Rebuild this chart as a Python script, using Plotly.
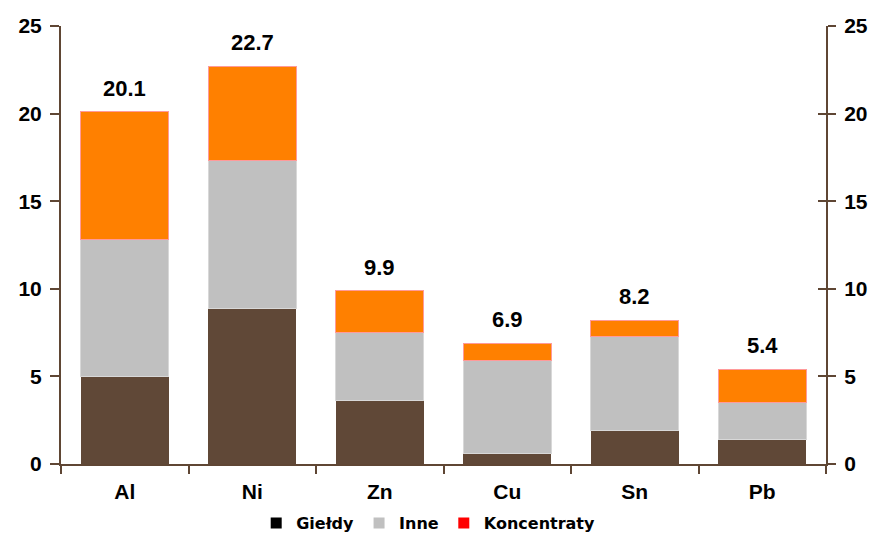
import plotly.graph_objects as go

categories = ["Al", "Ni", "Zn", "Cu", "Sn", "Pb"]
gieldy = [5.0, 8.9, 3.6, 0.6, 1.9, 1.4]
inne = [7.8, 8.4, 3.9, 5.3, 5.4, 2.1]
koncentraty = [7.3, 5.4, 2.4, 1.0, 0.9, 1.9]
totals = [20.1, 22.7, 9.9, 6.9, 8.2, 5.4]
series_names = ["Giełdy", "Inne", "Koncentraty"]
legend_colors = ["#000000", "#c0c0c0", "#ff0000"]
y_ticks = [0, 5, 10, 15, 20, 25]

AXIS = "#5f4634"
BROWN = "#604837"
GREY = "#c0c0c0"
ORANGE = "#ff8000"

fig = go.Figure()
fig.add_trace(go.Bar(x=categories, y=gieldy, marker=dict(color=BROWN, line=dict(width=0)),
                     showlegend=False, hoverinfo="skip"))
fig.add_trace(go.Bar(x=categories, y=inne, marker=dict(color=GREY, line=dict(color="#d8d8d8", width=1)),
                     showlegend=False, hoverinfo="skip"))
fig.add_trace(go.Bar(x=categories, y=koncentraty, marker=dict(color=ORANGE, line=dict(color="#ff9a9a", width=1)),
                     showlegend=False, hoverinfo="skip"))

# legend swatches (colours as in the original legend)
for name, col in zip(series_names, legend_colors):
    fig.add_trace(go.Scatter(x=[None], y=[None], mode="markers", name=name,
                             marker=dict(symbol="square", size=11, color=col)))

# invisible traces to anchor the right axes
for ax in ["y2", "y3"]:
    fig.add_trace(go.Scatter(x=[categories[0]], y=[0], yaxis=ax, mode="markers",
                             marker=dict(opacity=0), showlegend=False, hoverinfo="skip"))

for c, t in zip(categories, totals):
    fig.add_annotation(x=c, y=t, text=f"{t:.1f}", showarrow=False,
                       yanchor="bottom", yshift=9,
                       font=dict(family="Liberation Sans, Arial", size=22, color="#000000",
                                 weight="bold"))

tickfont = dict(family="Liberation Sans, Arial", size=21, color="#000000", weight="bold")
fig.update_layout(
    width=875, height=534,
    margin=dict(l=61, r=49, t=26, b=70, autoexpand=False),
    paper_bgcolor="white", plot_bgcolor="white",
    barmode="stack", bargap=0.31,
    showlegend=True,
    legend=dict(orientation="h", x=0.48, xanchor="center", y=-0.135, yanchor="middle",
                traceorder="normal",
                font=dict(family="DejaVu Sans", size=16, color="#000000", weight="bold"),
                itemwidth=30, tracegroupgap=0, bgcolor="rgba(0,0,0,0)"),
    xaxis=dict(type="category", showline=True, linecolor=AXIS, linewidth=2,
               ticks="outside", tickson="boundaries", ticklen=8, tickwidth=2, tickcolor=AXIS,
               tickfont=tickfont, ticklabelstandoff=8, showgrid=False, zeroline=False),
    yaxis=dict(range=[0, 25], tickvals=y_ticks, showline=True, linecolor=AXIS, linewidth=2,
               ticks="outside", ticklen=9, tickwidth=2, tickcolor=AXIS,
               tickfont=tickfont, ticklabelstandoff=4, showgrid=False, zeroline=False),
    yaxis2=dict(range=[0, 25], tickvals=y_ticks, overlaying="y", side="right",
                showline=True, linecolor=AXIS, linewidth=2,
                ticks="outside", ticklen=8, tickwidth=2, tickcolor=AXIS,
                tickfont=tickfont, ticklabelstandoff=4, showgrid=False, zeroline=False),
    yaxis3=dict(range=[0, 25], tickvals=y_ticks, overlaying="y", side="right",
                showline=False, ticks="inside", ticklen=8, tickwidth=2, tickcolor=AXIS,
                showticklabels=False, showgrid=False, zeroline=False),
)

fig.write_html("out.html")
